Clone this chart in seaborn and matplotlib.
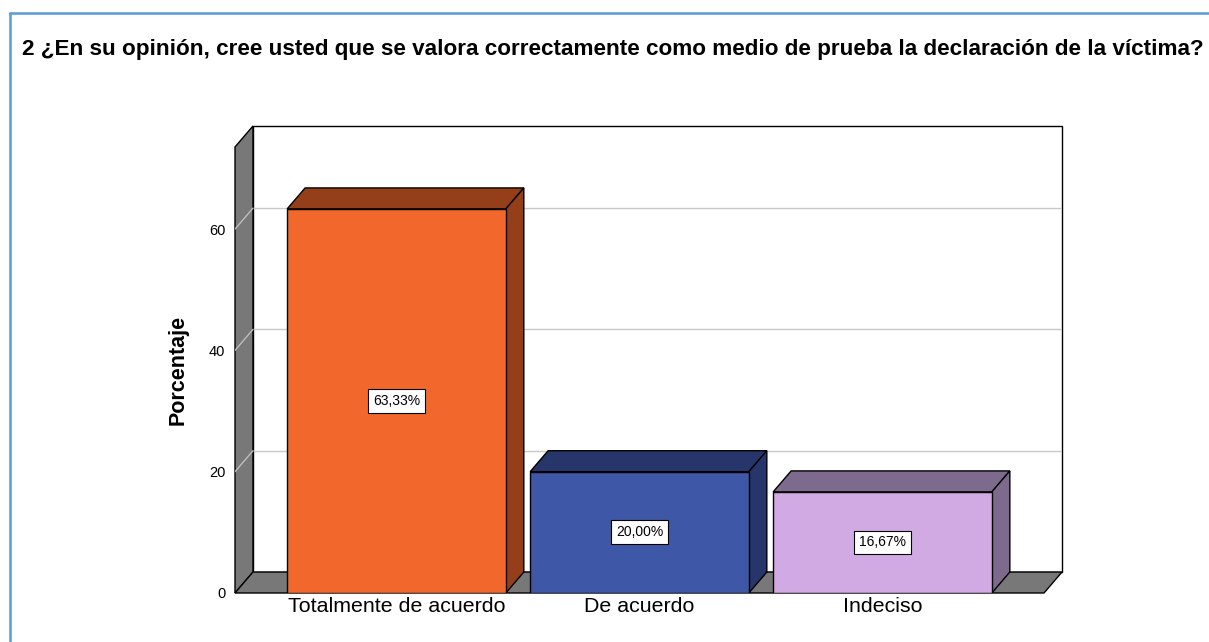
import matplotlib
matplotlib.use("Agg")
import matplotlib.pyplot as plt
from matplotlib.patches import Polygon
from matplotlib.lines import Line2D
import seaborn as sns
import pandas as pd

# Datos
categories = ["Totalmente de acuerdo", "De acuerdo", "Indeciso"]
percentages = [63.33, 20.00, 16.67]
front_colors = ["#F2682C", "#3E58A7", "#D1A9E3"]
side_colors = ["#953F1A", "#26366A", "#7E6A8C"]
yticks = [0, 20, 40, 60]
title = "2 ¿En su opinión, cree usted que se valora correctamente como medio de prueba la declaración de la víctima?"

sns.set_style("white")
plt.rcParams["font.family"] = ["Liberation Sans", "DejaVu Sans"]
for k in ["text.color", "axes.labelcolor", "xtick.color", "ytick.color"]:
    plt.rcParams[k] = "black"

df = pd.DataFrame({"cat": categories, "pct": percentages})

fig = plt.figure(figsize=(12.09, 6.42), dpi=100)
ax = fig.add_axes([235 / 1209, 49 / 642, 827 / 1209, 467 / 642])

# profundidad del efecto 3D (en unidades de datos)
dx, dy = 0.074, 3.46
xmin, xmax = -0.6646, 2.7387
ymax = 77.0

# paredes y suelo
wall = Polygon([(xmin, 0), (xmin + dx, dy), (xmin + dx, ymax), (xmin, ymax - dy)],
               closed=True, fc="#787878", ec="black", lw=1, zorder=1, clip_on=False)
floor = Polygon([(xmin, 0), (xmax - dx, 0), (xmax, dy), (xmin + dx, dy)],
                closed=True, fc="#787878", ec="black", lw=1, zorder=1, clip_on=False)
back = Polygon([(xmin + dx, dy), (xmax, dy), (xmax, ymax), (xmin + dx, ymax)],
               closed=True, fc="white", ec="black", lw=1, zorder=0.5, clip_on=False)
ax.add_patch(back)
ax.add_patch(wall)
ax.add_patch(floor)

# lineas de cuadricula
for v in yticks[1:]:
    ax.plot([xmin + dx, xmax], [v + dy, v + dy], color="#c8c8c8", lw=1, zorder=0.8)
    ax.plot([xmin, xmin + dx], [v, v + dy], color="#bdbdbd", lw=1, zorder=1.5)

sns.barplot(data=df, x="cat", y="pct", hue="cat", palette=front_colors,
            width=0.9, saturation=1, legend=False, edgecolor="black", linewidth=1,
            ax=ax, zorder=3)

for bar, sc, v in zip(ax.patches[3:], side_colors, percentages):
    x0 = bar.get_x()
    x1 = x0 + bar.get_width()
    h = bar.get_height()
    top = Polygon([(x0, h), (x0 + dx, h + dy), (x1 + dx, h + dy), (x1, h)],
                  closed=True, fc=sc, ec="black", lw=1, zorder=2.5)
    side = Polygon([(x1, 0), (x1 + dx, dy), (x1 + dx, h + dy), (x1, h)],
                   closed=True, fc=sc, ec="black", lw=1, zorder=2.5)
    ax.add_patch(top)
    ax.add_patch(side)
    label = f"{v:.2f}%".replace(".", ",")
    ax.text((x0 + x1) / 2, h / 2, label, ha="center", va="center", fontsize=10,
            zorder=5, bbox=dict(boxstyle="square,pad=0.35", fc="white", ec="black", lw=0.8))

ax.set_xlim(xmin, xmax)
ax.set_ylim(0, ymax)
ax.set_yticks(yticks)
ax.tick_params(axis="y", labelsize=10.5, length=0, pad=7)
ax.tick_params(axis="x", labelsize=15.4, length=0, pad=3)
ax.set_xlabel("")
ax.set_ylabel("Porcentaje", fontsize=15.5, fontweight="bold")
ax.yaxis.set_label_coords(-0.056, 0.477)
for s in ax.spines.values():
    s.set_visible(False)

fig.text(22 / 1209, 1 - 50 / 642, title, ha="left", va="center",
         fontsize=16.2, fontweight="bold")

# marco azul
fig.add_artist(Line2D([10 / 1209, 1], [1 - 13 / 642, 1 - 13 / 642], color="#5b9bd5", lw=1.8))
fig.add_artist(Line2D([10 / 1209, 10 / 1209], [0, 1 - 13 / 642], color="#5b9bd5", lw=1.8))

fig.savefig("out.png", dpi=100)
